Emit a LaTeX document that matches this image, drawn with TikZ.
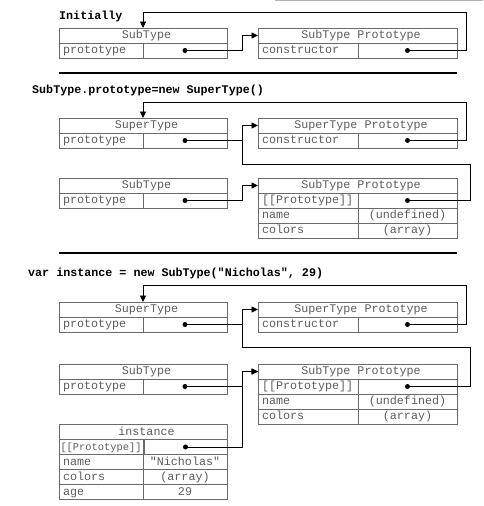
\documentclass[tikz,border=0pt]{standalone}
\usepackage{fontspec}
\setmonofont{Liberation Mono}
\usetikzlibrary{arrows.meta}
\definecolor{boxgray}{HTML}{6A6A6A}
\definecolor{txtgray}{HTML}{5C5C5C}
\begin{document}
\begin{tikzpicture}[x=1pt,y=-1pt,
  cell/.style={draw=boxgray, line width=0.8pt, inner sep=0pt, outer sep=0pt,
    anchor=north west, minimum height=15pt, text=txtgray,
    font=\fontsize{11.7pt}{14pt}\selectfont\ttfamily, text height=8.5pt, text depth=2.5pt},
  hdr/.style={cell, minimum width=#1, execute at begin node={\hspace*{7pt}}},
  lc/.style={cell, inner xsep=4pt, text width=#1, align=left},
  rc/.style={cell, minimum width=#1},
  dot/.style={circle, fill=black, inner sep=0pt, minimum size=5pt},
  title/.style={anchor=west, inner sep=0pt, font=\fontsize{11.7pt}{14pt}\selectfont\ttfamily\bfseries},
  wire/.style={draw=black, line width=0.8pt},
  conn/.style={wire, -{Triangle[length=6.5pt,width=6pt]}},
  sepline/.style={draw=black, line width=1.6pt}]
\useasboundingbox (0,0) rectangle (483,506);
\draw[gray!60, line width=1pt] (275,0.5) -- (483,0.5);

% ---------- Section 1 ----------
\node[title] (t1) at (59,16.5) {Initially};
\node[hdr=168pt] (st1) at (59,28) {SubType};
\node[lc=76pt] (st1k) at (59,43) {prototype};
\node[rc=84pt] (st1v) at (143,43) {};
\node[dot] (d1) at (st1v.center) {};
\node[hdr=199pt] (sp1) at (258,28) {SubType Prototype};
\node[lc=92pt] (sp1k) at (258,43) {constructor};
\node[rc=99pt] (sp1v) at (358,43) {};
\node[dot] (d2) at (sp1v.center) {};
\coordinate (j1) at (242,0);
\coordinate (r1) at (466,12.3);
\draw[conn] (d1.center) -- (d1 -| j1) |- (sp1.west);
\draw[conn] (d2.center) -| (r1) -| (st1.north);
\draw[sepline] (59,72.7) -- (457,72.7);

% ---------- Section 2 ----------
\node[title] (t2) at (32,90.7) {SubType.prototype=new SuperType()};
\node[hdr=168pt] (sup2) at (59,118) {SuperType};
\node[lc=76pt] (sup2k) at (59,133) {prototype};
\node[rc=84pt] (sup2v) at (143,133) {};
\node[dot] (d3) at (sup2v.center) {};
\node[hdr=199pt] (spp2) at (258,118) {SuperType Prototype};
\node[lc=92pt] (spp2k) at (258,133) {constructor};
\node[rc=99pt] (spp2v) at (358,133) {};
\node[dot] (d4) at (spp2v.center) {};

\node[hdr=168pt] (sub2) at (59,178) {SubType};
\node[lc=76pt] (sub2k) at (59,193) {prototype};
\node[rc=84pt] (sub2v) at (143,193) {};
\node[dot] (d5) at (sub2v.center) {};
\node[hdr=199pt] (sbp2) at (258,178) {SubType Prototype};
\node[lc=92pt] (sbp2k) at (258,193) {[[Prototype]]};
\node[rc=99pt] (sbp2v) at (358,193) {};
\node[dot] (d6) at (sbp2v.center) {};
\node[lc=92pt] (sbp2n) at (258,208) {name};
\node[rc=99pt] (sbp2nv) at (358,208) {(undefined)};
\node[lc=92pt] (sbp2c) at (258,223) {colors};
\node[rc=99pt] (sbp2cv) at (358,223) {(array)};

\coordinate (r2) at (466,102.3);
\coordinate (k2) at (242,164.3);
\coordinate (r3) at (470,164.3);
\draw[conn] (d4.center) -| (r2) -| (sup2.north);
\draw[wire] (d3.center) -- (d3 -| k2);
\draw[conn] (d6.center) -| (r3) -- (k2) |- (spp2.west);
\draw[conn] (d5.center) -- (d5 -| k2) |- (sbp2.west);
\draw[sepline] (59,252.7) -- (457,252.7);

% ---------- Section 3 ----------
\node[title] (t3) at (28,273) {var instance = new SubType("Nicholas", 29)};
\node[hdr=168pt] (sup3) at (59,302) {SuperType};
\node[lc=76pt] (sup3k) at (59,317) {prototype};
\node[rc=84pt] (sup3v) at (143,317) {};
\node[dot] (d7) at (sup3v.center) {};
\node[hdr=199pt] (spp3) at (258,302) {SuperType Prototype};
\node[lc=92pt] (spp3k) at (258,317) {constructor};
\node[rc=99pt] (spp3v) at (358,317) {};
\node[dot] (d8) at (spp3v.center) {};

\node[hdr=168pt] (sub3) at (59,364) {SubType};
\node[lc=76pt] (sub3k) at (59,379) {prototype};
\node[rc=84pt] (sub3v) at (143,379) {};
\node[dot] (d9) at (sub3v.center) {};
\node[hdr=199pt] (sbp3) at (258,364) {SubType Prototype};
\node[lc=92pt] (sbp3k) at (258,379) {[[Prototype]]};
\node[rc=99pt] (sbp3v) at (358,379) {};
\node[dot] (d10) at (sbp3v.center) {};
\node[lc=92pt] (sbp3n) at (258,394) {name};
\node[rc=99pt] (sbp3nv) at (358,394) {(undefined)};
\node[lc=92pt] (sbp3c) at (258,409) {colors};
\node[rc=99pt] (sbp3cv) at (358,409) {(array)};

\node[hdr=168pt] (ins) at (59,424.5) {instance};
\node[lc=81pt, inner xsep=1.5pt, font=\fontsize{10.4pt}{12pt}\selectfont\ttfamily] (insk) at (59,439.5) {[[Prototype]]};
\node[rc=83pt] (insv) at (144,439.5) {};
\node[dot] (d11) at (insv.center) {};
\node[lc=76pt] (insn) at (59,454.5) {name};
\node[rc=84pt] (insnv) at (143,454.5) {"Nicholas"};
\node[lc=76pt] (insc) at (59,469.5) {colors};
\node[rc=84pt] (inscv) at (143,469.5) {(array)};
\node[lc=76pt] (insa) at (59,484.5) {age};
\node[rc=84pt] (insav) at (143,484.5) {29};

\coordinate (r5) at (466,285.7);
\coordinate (k3) at (242,347.3);
\coordinate (r6) at (470,347.3);
\draw[conn] (d8.center) -| (r5) -| (sup3.north);
\draw[wire] (d7.center) -- (d7 -| k3);
\draw[conn] (d10.center) -| (r6) -- (k3) |- (spp3.west);
\draw[conn] (d9.center) -- (d9 -| k3) |- (sbp3.west);
\draw[conn] (d11.center) -- (d11 -| k3) |- (sbp3.west);
\end{tikzpicture}
\end{document}
